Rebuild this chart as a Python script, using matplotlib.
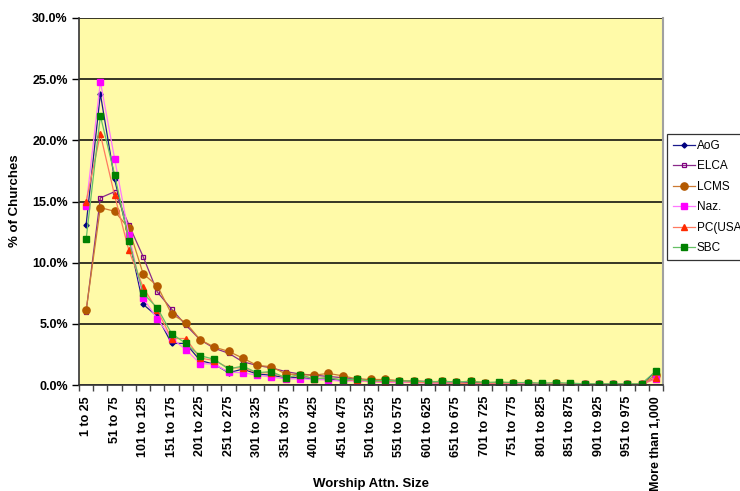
import matplotlib
matplotlib.use("Agg")
import matplotlib.pyplot as plt
from matplotlib.ticker import FixedLocator, FuncFormatter
import numpy as np

plt.rcParams['font.family'] = ['Liberation Sans', 'DejaVu Sans']

# Attendance size bins
bins = [f"{lo} to {lo + 24}" for lo in range(1, 1000, 25)]
bins[-1] = "976 to 1,000"
categories = bins + ["More than 1,000"]

# Share of churches (%) in each attendance bin
aog = [13.1, 23.8, 16.8, 12.0, 6.6, 5.6, 3.4, 3.4, 2.0, 1.7, 1.0, 1.3, 0.9, 0.8, 0.6,
       0.6, 0.5, 0.5, 0.35, 0.4, 0.3, 0.3, 0.25, 0.25, 0.2, 0.2, 0.2, 0.15, 0.15, 0.1,
       0.1, 0.1, 0.1, 0.1, 0.1, 0.05, 0.05, 0.05, 0.05, 0.05, 1.1]
elca = [6.0, 15.3, 15.8, 13.1, 10.5, 7.6, 6.2, 4.9, 3.7, 3.0, 2.6, 1.9, 1.6, 1.4, 1.1,
        0.9, 0.8, 0.7, 0.6, 0.5, 0.4, 0.4, 0.35, 0.3, 0.3, 0.25, 0.25, 0.2, 0.2, 0.15,
        0.15, 0.1, 0.1, 0.1, 0.1, 0.1, 0.05, 0.05, 0.05, 0.05, 0.6]
lcms = [6.1, 14.5, 14.2, 12.8, 9.1, 8.1, 5.8, 5.1, 3.7, 3.1, 2.75, 2.2, 1.6, 1.5, 0.9,
        0.85, 0.8, 0.95, 0.75, 0.5, 0.45, 0.45, 0.35, 0.35, 0.25, 0.3, 0.25, 0.3, 0.2, 0.2,
        0.15, 0.2, 0.1, 0.15, 0.1, 0.1, 0.1, 0.1, 0.1, 0.1, 0.8]
naz = [14.6, 24.8, 18.5, 12.3, 7.1, 5.4, 3.8, 2.9, 1.75, 1.7, 1.05, 1.0, 0.8, 0.65, 0.5,
       0.5, 0.45, 0.4, 0.3, 0.35, 0.25, 0.2, 0.2, 0.2, 0.15, 0.15, 0.15, 0.1, 0.1, 0.1,
       0.1, 0.1, 0.05, 0.05, 0.05, 0.05, 0.05, 0.05, 0.05, 0.05, 0.5]
pcusa = [15.0, 20.5, 15.5, 11.0, 8.0, 6.1, 3.8, 3.8, 2.2, 2.0, 1.4, 1.4, 1.0, 1.0, 0.6,
         0.8, 0.5, 0.6, 0.4, 0.4, 0.3, 0.25, 0.3, 0.2, 0.2, 0.15, 0.15, 0.1, 0.1, 0.1,
         0.1, 0.05, 0.1, 0.05, 0.05, 0.05, 0.05, 0.05, 0.05, 0.05, 0.55]
sbc = [11.9, 22.0, 17.2, 11.8, 7.5, 6.3, 4.2, 3.4, 2.4, 2.1, 1.3, 1.55, 1.0, 1.1, 0.6,
       0.85, 0.5, 0.6, 0.4, 0.5, 0.3, 0.4, 0.3, 0.35, 0.25, 0.3, 0.25, 0.3, 0.2, 0.25,
       0.2, 0.2, 0.15, 0.2, 0.15, 0.1, 0.1, 0.1, 0.1, 0.1, 1.15]

series = [
    ("AoG", aog, dict(color="#1a1a8c", marker="D", ms=2.6, mfc="#000080", mec="#000080")),
    ("ELCA", elca, dict(color="#8a2a8a", marker="s", ms=3.2, mfc="none", mec="#800080", mew=0.9)),
    ("LCMS", lcms, dict(color="#cc7a33", marker="o", ms=5.2, mfc="#b35900", mec="#b35900")),
    ("Naz.", naz, dict(color="#ff77ff", marker="s", ms=4.2, mfc="#ff00ff", mec="#ff00ff")),
    ("PC(USA)", pcusa, dict(color="#ff7a60", marker="^", ms=4.8, mfc="#ff2a00", mec="#ff2a00")),
    ("SBC", sbc, dict(color="#66c066", marker="s", ms=5.0, mfc="#008000", mec="#008000")),
]

fig = plt.figure(figsize=(7.4, 4.91), dpi=100)
ax = fig.add_axes([79 / 740, 1 - 385 / 491, (663 - 79) / 740, (385 - 18) / 491])
ax.set_facecolor("#fffaa8")

x = np.arange(len(categories))
for name, vals, style in series:
    ax.plot(x, vals, lw=0.9, label=name, **style)

ax.set_xlim(-0.5, len(categories) - 0.5)
ax.set_ylim(0, 30)

# y axis: percentages with gridlines every 5%
ax.set_yticks(np.arange(0, 30.1, 5))
ax.yaxis.set_major_formatter(FuncFormatter(lambda v, _: f"{v:.1f}%"))
ax.grid(axis="y", color="black", lw=1.1)
ax.set_axisbelow(True)
ax.tick_params(axis="y", direction="out", length=5, width=1, pad=3, labelsize=9)
for lbl in ax.get_yticklabels():
    lbl.set_fontweight("bold")

# x axis: tick marks between categories, labels on every other category
ax.xaxis.set_major_locator(FixedLocator(x[::2]))
ax.set_xticklabels([categories[i] for i in x[::2]], rotation=90, fontsize=9,
                   fontweight="bold", va="top", ha="center")
ax.xaxis.set_minor_locator(FixedLocator(np.arange(-0.5, len(categories), 1)))
ax.tick_params(axis="x", which="major", length=0, pad=8)
ax.tick_params(axis="x", which="minor", direction="out", length=4, width=1, color="#444444")

ax.spines["top"].set_visible(False)
ax.spines["left"].set_color("#333333")
ax.spines["left"].set_linewidth(1.2)
ax.spines["bottom"].set_color("#333333")
ax.spines["bottom"].set_linewidth(1.2)
ax.spines["right"].set_color("#a0a0a0")
ax.spines["right"].set_linewidth(1.5)

fig.text(15 / 740, 1 - 201 / 491, "% of Churches", rotation=90, ha="center", va="center",
         fontsize=9.5, fontweight="bold")
fig.text(371 / 740, 1 - 484 / 491, "Worship Attn. Size", ha="center", va="center",
         fontsize=9.5, fontweight="bold")

leg = fig.legend(loc="upper left", bbox_to_anchor=(667 / 740, 1 - 134 / 491),
                 bbox_transform=fig.transFigure, fontsize=8.5, frameon=True,
                 fancybox=False, handlelength=1.9, handletextpad=0.1,
                 labelspacing=0.72, borderpad=0.5, borderaxespad=0)
leg.get_frame().set_edgecolor("black")
leg.get_frame().set_linewidth(0.9)

fig.savefig("out.png", dpi=100)
